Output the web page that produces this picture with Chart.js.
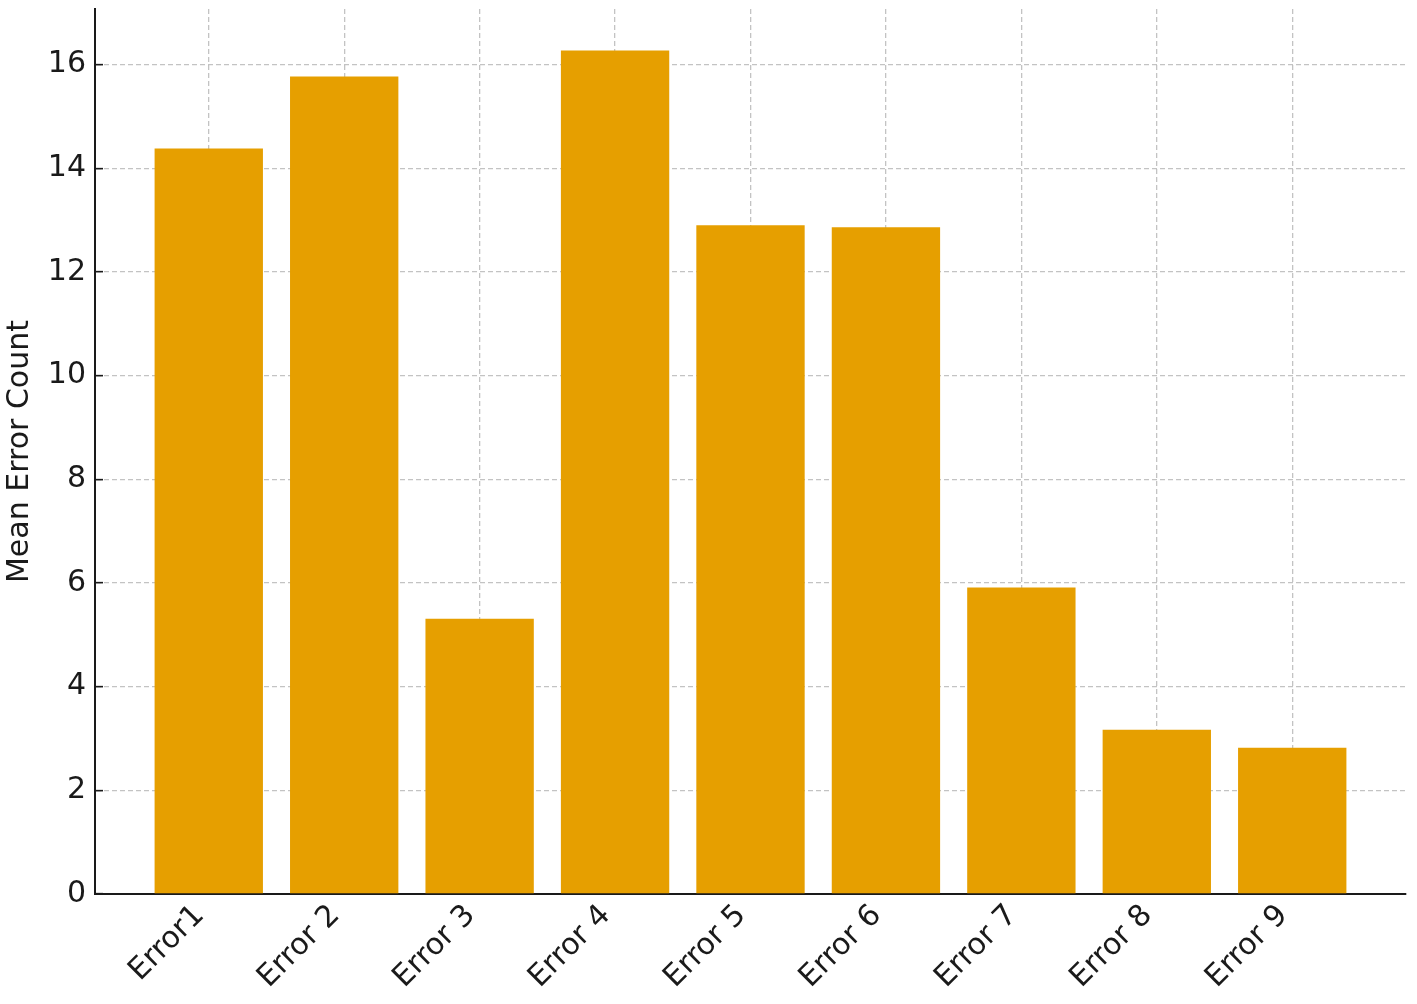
<!DOCTYPE html>
<html>
<head>
<meta charset="utf-8">
<script src="https://cdn.jsdelivr.net/npm/chart.js@4.4.1/dist/chart.umd.min.js"></script>
<style>
  body { margin: 0; background: #fff; }
  canvas { display: block; }
</style>
</head>
<body>
<canvas id="error-chart" width="1417" height="1004"></canvas>
<script>
const categories = ["Error1", "Error 2", "Error 3", "Error 4", "Error 5", "Error 6", "Error 7", "Error 8", "Error 9"];
const meanErrors = [14.38, 15.77, 5.31, 16.27, 12.9, 12.86, 5.91, 3.17, 2.82];
const yTicks = [0, 2, 4, 6, 8, 10, 12, 14, 16];

const textColor = "#1a1a1a";
const gridColor = "rgba(180, 180, 180, 0.8)";
const fontFamily = "'DejaVu Sans', sans-serif";
const fontSize = 30;

const errorCanvas = document.getElementById("error-chart");

const errorData = {
  datasets: [
    {
      label: "Mean Error Count",
      data: meanErrors.map((v, i) => ({ x: i, y: v })),
      backgroundColor: "#E69F00",
      borderWidth: 0,
      barPercentage: 0.8,
      categoryPercentage: 1,
    },
  ],
};

const errorOptions = {
  responsive: false,
  animation: false,
  layout: {
    padding: { left: 0, top: 9, right: 11, bottom: 0 },
  },
  plugins: {
    legend: { display: false },
    tooltip: { enabled: false },
  },
  scales: {
    x: {
      type: "linear",
      z: 1,
      offset: false,
      min: -0.84,
      max: 8.84,
      afterFit: (scale) => {
        scale.height = 110;
        scale.paddingLeft = 0;
        scale.paddingRight = 0;
      },
      afterBuildTicks: (scale) => {
        scale.ticks = categories.map((c, i) => ({ value: i }));
      },
      ticks: {
        includeBounds: false,
        stepSize: 1,
        autoSkip: false,
        minRotation: 45,
        maxRotation: 45,
        padding: 12,
        labelOffset: -9,
        color: textColor,
        font: { family: fontFamily, size: fontSize },
        callback: (value) => categories[value],
      },
      grid: {
        offset: false,
        color: gridColor,
        lineWidth: 1.3,
        tickLength: -8,
        tickColor: textColor,
        tickWidth: 1.6,
        tickBorderDash: [],
      },
      border: { color: textColor, width: 2, dash: [5, 3] },
    },
    y: {
      z: 1,
      min: 0,
      max: 17.07,
      afterFit: (scale) => {
        scale.width = 95;
        scale.paddingTop = 0;
        scale.paddingBottom = 0;
      },
      afterBuildTicks: (scale) => {
        scale.ticks = yTicks.map((v) => ({ value: v }));
      },
      ticks: {
        includeBounds: false,
        padding: 17,
        color: textColor,
        font: { family: fontFamily, size: fontSize },
      },
      grid: {
        color: gridColor,
        lineWidth: 1.3,
        tickLength: -8,
        tickColor: textColor,
        tickWidth: 1.6,
        tickBorderDash: [],
      },
      border: { color: textColor, width: 2, dash: [5, 3] },
      title: {
        display: true,
        text: "Mean Error Count",
        color: textColor,
        font: { family: fontFamily, size: fontSize },
        padding: { top: 2, bottom: 0 },
      },
    },
  },
};

let errorChart = new Chart(errorCanvas, {
  type: "bar",
  data: errorData,
  options: errorOptions,
});
</script>
</body>
</html>
